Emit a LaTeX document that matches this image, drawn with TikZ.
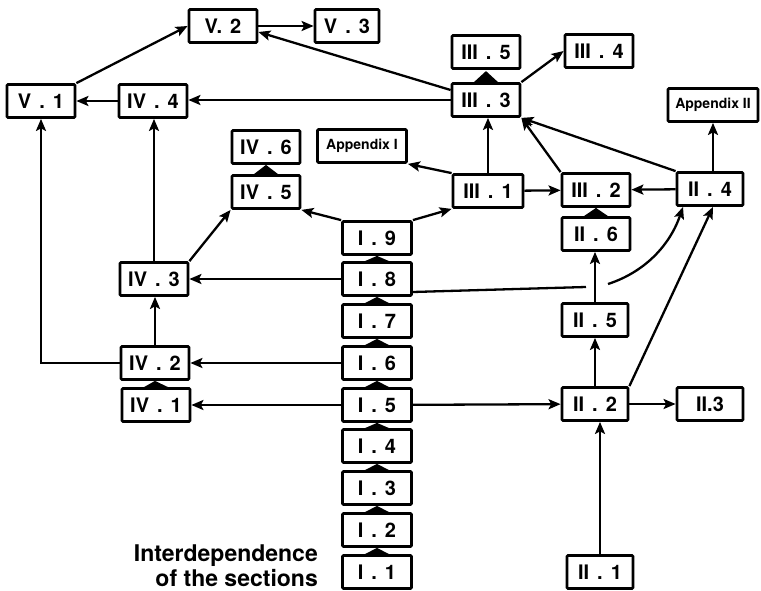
\documentclass[tikz,border=0pt]{standalone}
\usepackage{fontspec}
\setmainfont{TeX Gyre Heros}
\usetikzlibrary{arrows.meta}
\newcommand\myboxfont{\fontsize{20}{20}\selectfont\bfseries\spaceskip=0.4em\relax}
\newcommand\myappfont{\fontsize{14}{14}\selectfont\bfseries}
\newcommand\myttlfont{\fontsize{23}{23}\selectfont\bfseries}
\begin{document}
\begin{tikzpicture}[x=1pt,y=-1pt,
  box/.style={draw, line width=2.8pt, rounded corners=1pt, minimum width=68pt, minimum height=33pt, inner sep=0pt,
    font=\myboxfont},
  app/.style={box, minimum width=89pt, font=\myappfont},
  conn/.style={line width=2.3pt, -{Stealth[length=12pt,width=10pt,inset=2.5pt]}},
  plain/.style={line width=2.3pt},
  ttl/.style={anchor=base east, inner sep=0pt, font=\myttlfont}
]
\useasboundingbox (0,0) rectangle (761,591);

% nodes
\node[box] (V2) at (223,26) {V. 2};
\node[box, minimum width=64pt] (V3) at (347,26) {V . 3};
\node[box] (V1) at (41,101) {V . 1};
\node[box] (IV4) at (153,101) {IV . 4};
\node[box] (IV6) at (266,147) {IV . 6};
\node[box] (IV5) at (266,192) {IV . 5};
\node[app] (AppI) at (362,146) {Appendix I};
\node[box] (III5) at (486,52) {III . 5};
\node[box] (III4) at (599,51) {III . 4};
\node[box] (III3) at (486,100) {III . 3};
\node[app, minimum width=90pt] (AppII) at (713,105) {Appendix II};
\node[box, minimum width=70pt] (III1) at (488,191) {III . 1};
\node[box] (III2) at (596,190) {III . 2};
\node[box, minimum width=66pt] (II4) at (710,189) {II . 4};
\node[box] (II6) at (596,234) {II . 6};
\node[box, minimum width=69pt] (I9) at (377,238) {I . 9};
\node[box, minimum width=69pt] (I8) at (377,279) {I . 8};
\node[box, minimum width=69pt] (I7) at (377,321) {I . 7};
\node[box, minimum width=69pt] (I6) at (377,363) {I . 6};
\node[box, minimum width=69pt] (I5) at (377,405) {I . 5};
\node[box, minimum width=69pt] (I4) at (377,446) {I . 4};
\node[box, minimum width=69pt] (I3) at (377,488) {I . 3};
\node[box, minimum width=69pt] (I2) at (377,530) {I . 2};
\node[box, minimum width=69pt] (I1) at (377,572) {I . 1};
\node[box] (IV3) at (154,279) {IV . 3};
\node[box] (IV2) at (155,363) {IV . 2};
\node[box] (IV1) at (156,405) {IV . 1};
\node[box, minimum width=66pt] (II5) at (595,320) {II . 5};
\node[box, minimum width=66pt] (II2) at (595,404) {II . 2};
\node[box, minimum width=66pt] (II3) at (710,404) {II.3};
\node[box, minimum width=66pt] (II1) at (600,572) {II . 1};

\node[ttl] (t1) at (318,561) {Interdependence};
\node[ttl] (t2) at (318,586) {of the sections};

% dependency triangles
\newcommand\deptri[2]{\fill ([xshift=-12pt]#1.north) -- ([xshift=12pt]#1.north) -- (#2.south) -- cycle;}
\deptri{I1}{I2}
\deptri{I2}{I3}
\deptri{I3}{I4}
\deptri{I4}{I5}
\deptri{I5}{I6}
\deptri{I6}{I7}
\deptri{I7}{I8}
\deptri{I8}{I9}
\deptri{IV1}{IV2}
\deptri{IV5}{IV6}
\deptri{II6}{III2}
\fill ([xshift=-12pt]III3.north) -- ([xshift=12pt]III3.north) -- ([yshift=11pt]III3.north) -- cycle;

% connectors
\draw[conn] (V1.north east) -- (V2.west);
\draw[conn] (V2) -- (V3);
\draw[conn] ([yshift=10pt]III3.west) -- ([yshift=-6pt]V2.east);
\draw[conn] (III3.west) -- (III3.west -| IV4.east);
\draw[conn] (IV4) -- (V1);
\draw[conn] (III3.north east) -- (III4.west);
\draw[conn] (III1.north) -- (III1.north |- III3.south);
\draw[conn] (III1.north west) -- (AppI.south east);
\draw[conn] (III1) -- (III2);
\draw[conn] (III2.north west) -- (III3.south east);
\draw[conn] (II4.north west) -- (III3.south east);
\draw[conn] (II4) -- (III2);
\draw[conn] ([xshift=3pt]II4.north) -- ([xshift=3pt]II4.north |- AppII.south);
\draw[conn] (I9.north west) -- (IV5.south east);
\draw[conn] (I9.north east) -- (III1.south west);
\draw[conn] (IV3.north east) -- (IV5.south west);
\draw[conn] (IV3.north) -- (IV3.north |- IV4.south);
\draw[conn] (I8) -- (IV3);
\draw[conn] (IV2.north) -- (IV2.north |- IV3.south);
\draw[conn] (IV2.west) -| (V1.south);
\draw[conn] (I6) -- (IV2);
\draw[conn] (I5) -- (IV1);
\draw[conn] (I5) -- (II2);
\draw[conn] (II2) -- (II3);
\draw[conn] (II2.north) -- (II2.north |- II5.south);
\draw[conn] (II5.north) -- (II5.north |- II6.south);
\draw[conn] (II2.north east) -- ([xshift=3pt]II4.south);
\draw[conn] (II1.north) -- (II1.north |- II2.south);

\coordinate (c1) at (586,287);
\coordinate (c2) at (608,284);
\draw[plain] ([yshift=-13pt]I8.east) -- (c1);
\draw[conn] (c2) .. controls (645,272) and (670,245) .. ([xshift=-27pt]II4.south);
\end{tikzpicture}
\end{document}
